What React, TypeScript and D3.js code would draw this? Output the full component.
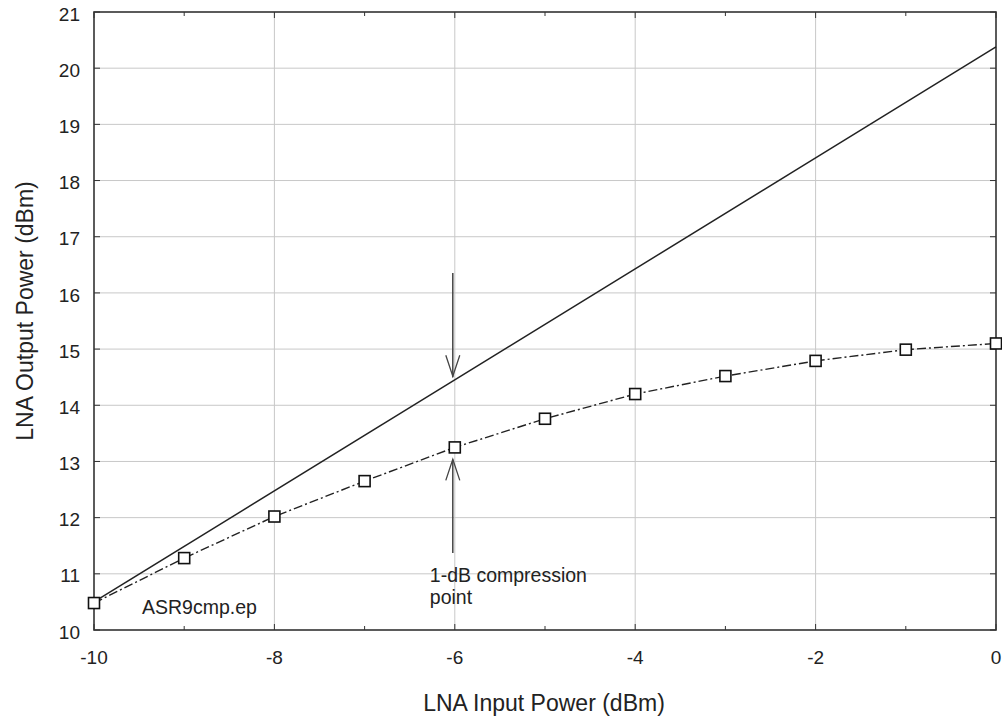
import React from "react";
import * as d3 from "d3";

const inputPower = [-10, -9, -8, -7, -6, -5, -4, -3, -2, -1, 0];
const outputPower = [10.48, 11.28, 12.02, 12.65, 13.25, 13.76, 14.2, 14.52, 14.79, 14.99, 15.1];
const linearX = [-10, 0];
const linearY = [10.5, 20.38];
const xTicks = [-10, -8, -6, -4, -2, 0];
const xMinorTicks = [-9, -7, -5, -3, -1];
const yTicks = [10, 11, 12, 13, 14, 15, 16, 17, 18, 19, 20, 21];

export default function App() {
  const W = 1002, H = 719;
  const L = 94, R = 996, T = 12, B = 630;
  const x = d3.scaleLinear().domain([-10, 0]).range([L, R]);
  const y = d3.scaleLinear().domain([10, 21]).range([B, T]);
  const line = d3.line<[number, number]>().x(d => x(d[0])).y(d => y(d[1]));
  const dataPts: [number, number][] = inputPower.map((v, i) => [v, outputPower[i]]);
  const linPts: [number, number][] = linearX.map((v, i) => [v, linearY[i]]);
  const font = "Liberation Sans, Arial, sans-serif";
  const tickLen = 6;
  const ax = x(-6);
  return (
    <svg width={W} height={H} style={{ position: "absolute", left: 0, top: 0 }} fontFamily={font}>
      <rect width={W} height={H} fill="#fff" />
      {/* grid */}
      {yTicks.slice(1, -1).map(t => (
        <line key={"gy" + t} x1={L} x2={R} y1={y(t)} y2={y(t)} stroke="#c8c8c8" strokeWidth={1} />
      ))}
      {xTicks.slice(1, -1).map(t => (
        <line key={"gx" + t} x1={x(t)} x2={x(t)} y1={T} y2={B} stroke="#c8c8c8" strokeWidth={1} />
      ))}
      {/* ticks */}
      {yTicks.map(t => (
        <g key={"ty" + t}>
          <line x1={L} x2={L + tickLen} y1={y(t)} y2={y(t)} stroke="#333" />
          <line x1={R} x2={R - tickLen} y1={y(t)} y2={y(t)} stroke="#333" />
          <text x={L - 14} y={y(t) + 2} dy="0.35em" textAnchor="end" fontSize={19} fill="#222">{t}</text>
        </g>
      ))}
      {xTicks.map(t => (
        <g key={"tx" + t}>
          <line x1={x(t)} x2={x(t)} y1={B} y2={B - tickLen} stroke="#333" />
          <line x1={x(t)} x2={x(t)} y1={T} y2={T + tickLen} stroke="#333" />
          <text x={x(t)} y={B + 34} textAnchor="middle" fontSize={19} fill="#222">{t}</text>
        </g>
      ))}
      {xMinorTicks.map(t => (
        <g key={"mx" + t}>
          <line x1={x(t)} x2={x(t)} y1={B} y2={B - 4} stroke="#333" />
          <line x1={x(t)} x2={x(t)} y1={T} y2={T + 4} stroke="#333" />
        </g>
      ))}
      {/* frame */}
      <rect x={L} y={T} width={R - L} height={B - T} fill="none" stroke="#333" strokeWidth={1.6} />
      {/* linear extrapolation */}
      <path d={line(linPts) || ""} fill="none" stroke="#222" strokeWidth={1.5} />
      {/* data */}
      <path d={line(dataPts) || ""} fill="none" stroke="#222" strokeWidth={1.4} strokeDasharray="9,3,2,3" />
      {dataPts.map((p, i) => (
        <rect key={"m" + i} x={x(p[0]) - 5.5} y={y(p[1]) - 5.5} width={11} height={11} fill="#fff" stroke="#111" strokeWidth={1.6} />
      ))}
      {/* arrows */}
      <line x1={ax - 2} x2={ax - 2} y1={273} y2={y(14.5)} stroke="#444" strokeWidth={1.5} />
      <path d={`M${ax - 9},${y(14.5) - 22} L${ax - 2},${y(14.5) - 1} L${ax + 5},${y(14.5) - 22}`} fill="none" stroke="#444" strokeWidth={1.3} />
      <line x1={ax - 2} x2={ax - 2} y1={553} y2={y(13.25) + 12} stroke="#444" strokeWidth={1.5} />
      <path d={`M${ax - 9},${y(13.25) + 33} L${ax - 2},${y(13.25) + 12} L${ax + 5},${y(13.25) + 33}`} fill="none" stroke="#444" strokeWidth={1.3} />
      <text x={ax - 25} y={582} fontSize={19.5} fill="#222">1-dB compression</text>
      <text x={ax - 25} y={604} fontSize={19.5} fill="#222">point</text>
      <text x={142} y={614} fontSize={19.5} fill="#222">ASR9cmp.ep</text>
      {/* axis titles */}
      <text x={544} y={711} textAnchor="middle" fontSize={23} fill="#222">LNA Input Power (dBm)</text>
      <text transform={`translate(33,311) rotate(-90)`} textAnchor="middle" fontSize={23} fill="#222">LNA Output Power (dBm)</text>
    </svg>
  );
}
